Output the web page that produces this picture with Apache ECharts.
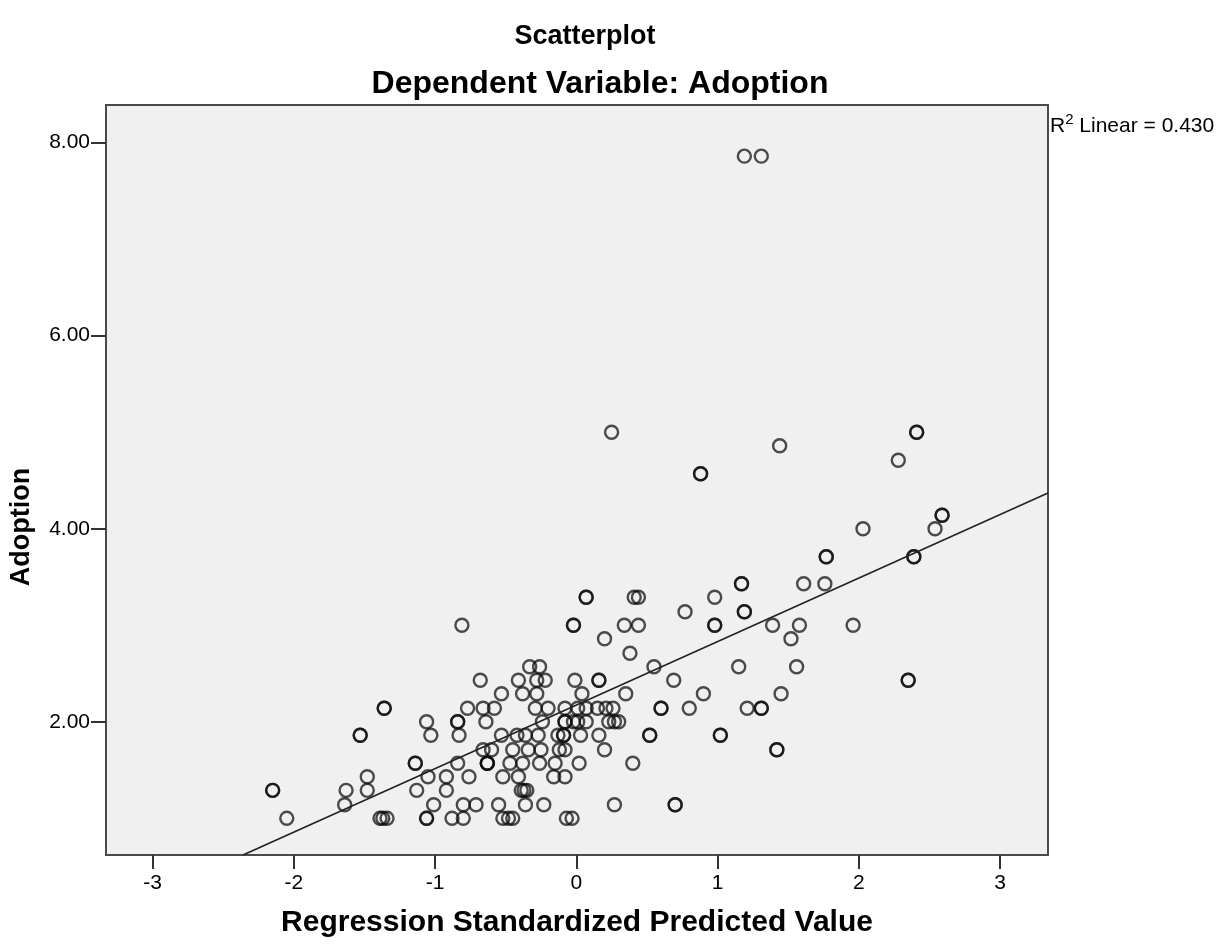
<!DOCTYPE html>
<html>
<head>
<meta charset="utf-8">
<title>Scatterplot</title>
<script src="https://cdn.jsdelivr.net/npm/echarts@6/dist/echarts.min.js"></script>
<style>
html, body { margin: 0; padding: 0; background: #fff; }
#main { width: 1220px; height: 947px; }
</style>
</head>
<body>
<div id="main"></div>
<script>
// 数据: [预测值(标准化), Adoption] 按 Adoption 分行
var pts_786 = [1.19, 1.31];
var pts_500 = [0.25, 2.41, 2.41];
var pts_486 = [1.44];
var pts_471 = [2.28];
var pts_457 = [0.88, 0.88];
var pts_414 = [2.59, 2.59];
var pts_400 = [2.03, 2.54];
var pts_371 = [1.77, 1.77, 2.39, 2.39];
var pts_343 = [1.17, 1.17, 1.61, 1.76];
var pts_329 = [0.07, 0.07, 0.41, 0.44, 0.98];
var pts_314 = [0.77, 1.19, 1.19];
var pts_300 = [-0.81, -0.02, -0.02, 0.34, 0.44, 0.98, 0.98, 1.39, 1.58, 1.96];
var pts_286 = [0.20, 1.52];
var pts_271 = [0.38];
var pts_257 = [-0.33, -0.26, 0.55, 1.15, 1.56];
var pts_243 = [-0.68, -0.41, -0.28, -0.22, -0.01, 0.16, 0.16, 0.69, 2.35, 2.35];
var pts_229 = [-0.53, -0.38, -0.28, 0.04, 0.35, 0.90, 1.45];
var pts_214 = [-1.36, -1.36, -0.77, -0.66, -0.58, -0.29, -0.20, -0.08, 0.01, 0.07, 0.15, 0.21, 0.26, 0.60, 0.60, 0.80, 1.21, 1.31, 1.31];
var pts_200 = [-1.06, -0.84, -0.84, -0.64, -0.24, -0.08, -0.08, -0.02, 0.01, 0.07, 0.23, 0.27, 0.30];
var pts_186 = [-1.53, -1.53, -1.03, -0.83, -0.53, -0.42, -0.36, -0.27, -0.13, -0.09, -0.09, 0.03, 0.16, 0.52, 0.52, 1.02, 1.02];
var pts_171 = [-0.66, -0.60, -0.45, -0.34, -0.25, -0.12, -0.08, 0.20, 1.42, 1.42];
var pts_157 = [-1.14, -1.14, -0.84, -0.63, -0.63, -0.63, -0.47, -0.38, -0.26, -0.15, 0.02, 0.40];
var pts_143 = [-1.48, -1.05, -0.92, -0.76, -0.52, -0.41, -0.16, -0.08];
var pts_129 = [-2.15, -2.15, -1.63, -1.48, -1.13, -0.92, -0.39, -0.37, -0.35];
var pts_114 = [-1.64, -1.01, -0.80, -0.71, -0.55, -0.36, -0.23, 0.27, 0.70, 0.70];
var pts_100 = [-2.05, -1.39, -1.37, -1.34, -1.06, -1.06, -0.88, -0.80, -0.52, -0.48, -0.45, -0.07, -0.03];

// 拟合线端点
var fitX = [-2.36, 3.34];
var fitY = [0.62, 4.37];

var xTicks = [-3, -2, -1, 0, 1, 2, 3];
var yTicks = [2, 4, 6, 8];

var rows = [
	[7.86, pts_786], [5.00, pts_500], [4.86, pts_486], [4.71, pts_471], [4.57, pts_457],
	[4.14, pts_414], [4.00, pts_400], [3.71, pts_371], [3.43, pts_343], [3.29, pts_329],
	[3.14, pts_314], [3.00, pts_300], [2.86, pts_286], [2.71, pts_271], [2.57, pts_257],
	[2.43, pts_243], [2.29, pts_229], [2.14, pts_214], [2.00, pts_200], [1.86, pts_186],
	[1.71, pts_171], [1.57, pts_157], [1.43, pts_143], [1.29, pts_129], [1.14, pts_114],
	[1.00, pts_100]
];
var scatterData = [];
rows.map(function(r){
	r[1].map(function(x){
		scatterData.push([x, r[0]]);
	});
});
var lineData = [[fitX[0], fitY[0]], [fitX[1], fitY[1]]];

var chart = echarts.init(document.getElementById('main'));
var option = {
	backgroundColor: '#ffffff',
	animation: false,
	textStyle: { fontFamily: 'Liberation Sans, Arial, sans-serif' },
	title: [{
		text: 'Scatterplot',
		left: 580, top: 18, textAlign: 'center',
		textStyle: { fontSize: 27, fontWeight: 'bold', color: '#000', fontFamily: 'Liberation Sans' }
	}, {
		text: 'Dependent Variable: Adoption',
		left: 595, top: 63, textAlign: 'center',
		textStyle: { fontSize: 32, fontWeight: 'bold', color: '#000', fontFamily: 'Liberation Sans' }
	}],
	graphic: [{
		type: 'text',
		left: 1050, top: 112,
		style: {
			text: '{a|R}{s|2}{a| Linear = 0.430}',
			rich: {
				a: { fontSize: 21, fill: '#000', fontFamily: 'Liberation Sans', verticalAlign: 'bottom' },
				s: { fontSize: 15, fill: '#000', fontFamily: 'Liberation Sans', verticalAlign: 'top', padding: [0, 0, 10, 0] }
			}
		}
	}, {
		// 纵轴标题
		type: 'text',
		x: 22, y: 527,
		rotation: Math.PI / 2,
		style: {
			text: 'Adoption',
			fontSize: 27, fontWeight: 'bold', fill: '#000', fontFamily: 'Liberation Sans',
			align: 'center', verticalAlign: 'middle'
		}
	}],
	grid: {
		left: 106, top: 105, width: 942, height: 750,
		outerBoundsMode: 'none',
		containLabel: false,
		show: true,
		backgroundColor: '#f0f0f0',
		borderColor: '#4a4a4a',
		borderWidth: 2
	},
	xAxis: {
		type: 'value',
		min: -3.33, max: 3.34,
		name: 'Regression Standardized Predicted Value',
		nameLocation: 'middle',
		nameGap: 53,
		nameTextStyle: { fontSize: 30, fontWeight: 'bold', color: '#000', fontFamily: 'Liberation Sans' },
		axisLine: { show: true, onZero: false, lineStyle: { color: '#4a4a4a', width: 2 } },
		axisTick: { show: true, customValues: xTicks, length: 14, lineStyle: { color: '#333', width: 2 } },
		axisLabel: { customValues: xTicks, margin: 18, fontSize: 21, color: '#000' },
		splitLine: { show: false }
	},
	yAxis: {
		type: 'value',
		min: 0.62, max: 8.39,
		axisLine: { show: true, onZero: false, lineStyle: { color: '#4a4a4a', width: 2 } },
		axisTick: { show: true, customValues: yTicks, length: 15, lineStyle: { color: '#333', width: 2 } },
		axisLabel: {
			customValues: yTicks, margin: 16, fontSize: 21, color: '#000',
			formatter: function(v){ return v.toFixed(2); }
		},
		splitLine: { show: false }
	},
	series: [{
		name: 'Adoption',
		type: 'scatter',
		symbol: 'circle',
		symbolSize: 13,
		data: scatterData,
		itemStyle: {
			color: 'rgba(0,0,0,0)',
			borderColor: 'rgba(10,10,10,0.9)',
			borderWidth: 2.4
		},
		z: 3
	}, {
		name: 'Linear',
		type: 'line',
		data: lineData,
		symbol: 'none',
		lineStyle: { color: '#222', width: 1.6 },
		z: 4
	}]
};
chart.setOption(option);
</script>
</body>
</html>
